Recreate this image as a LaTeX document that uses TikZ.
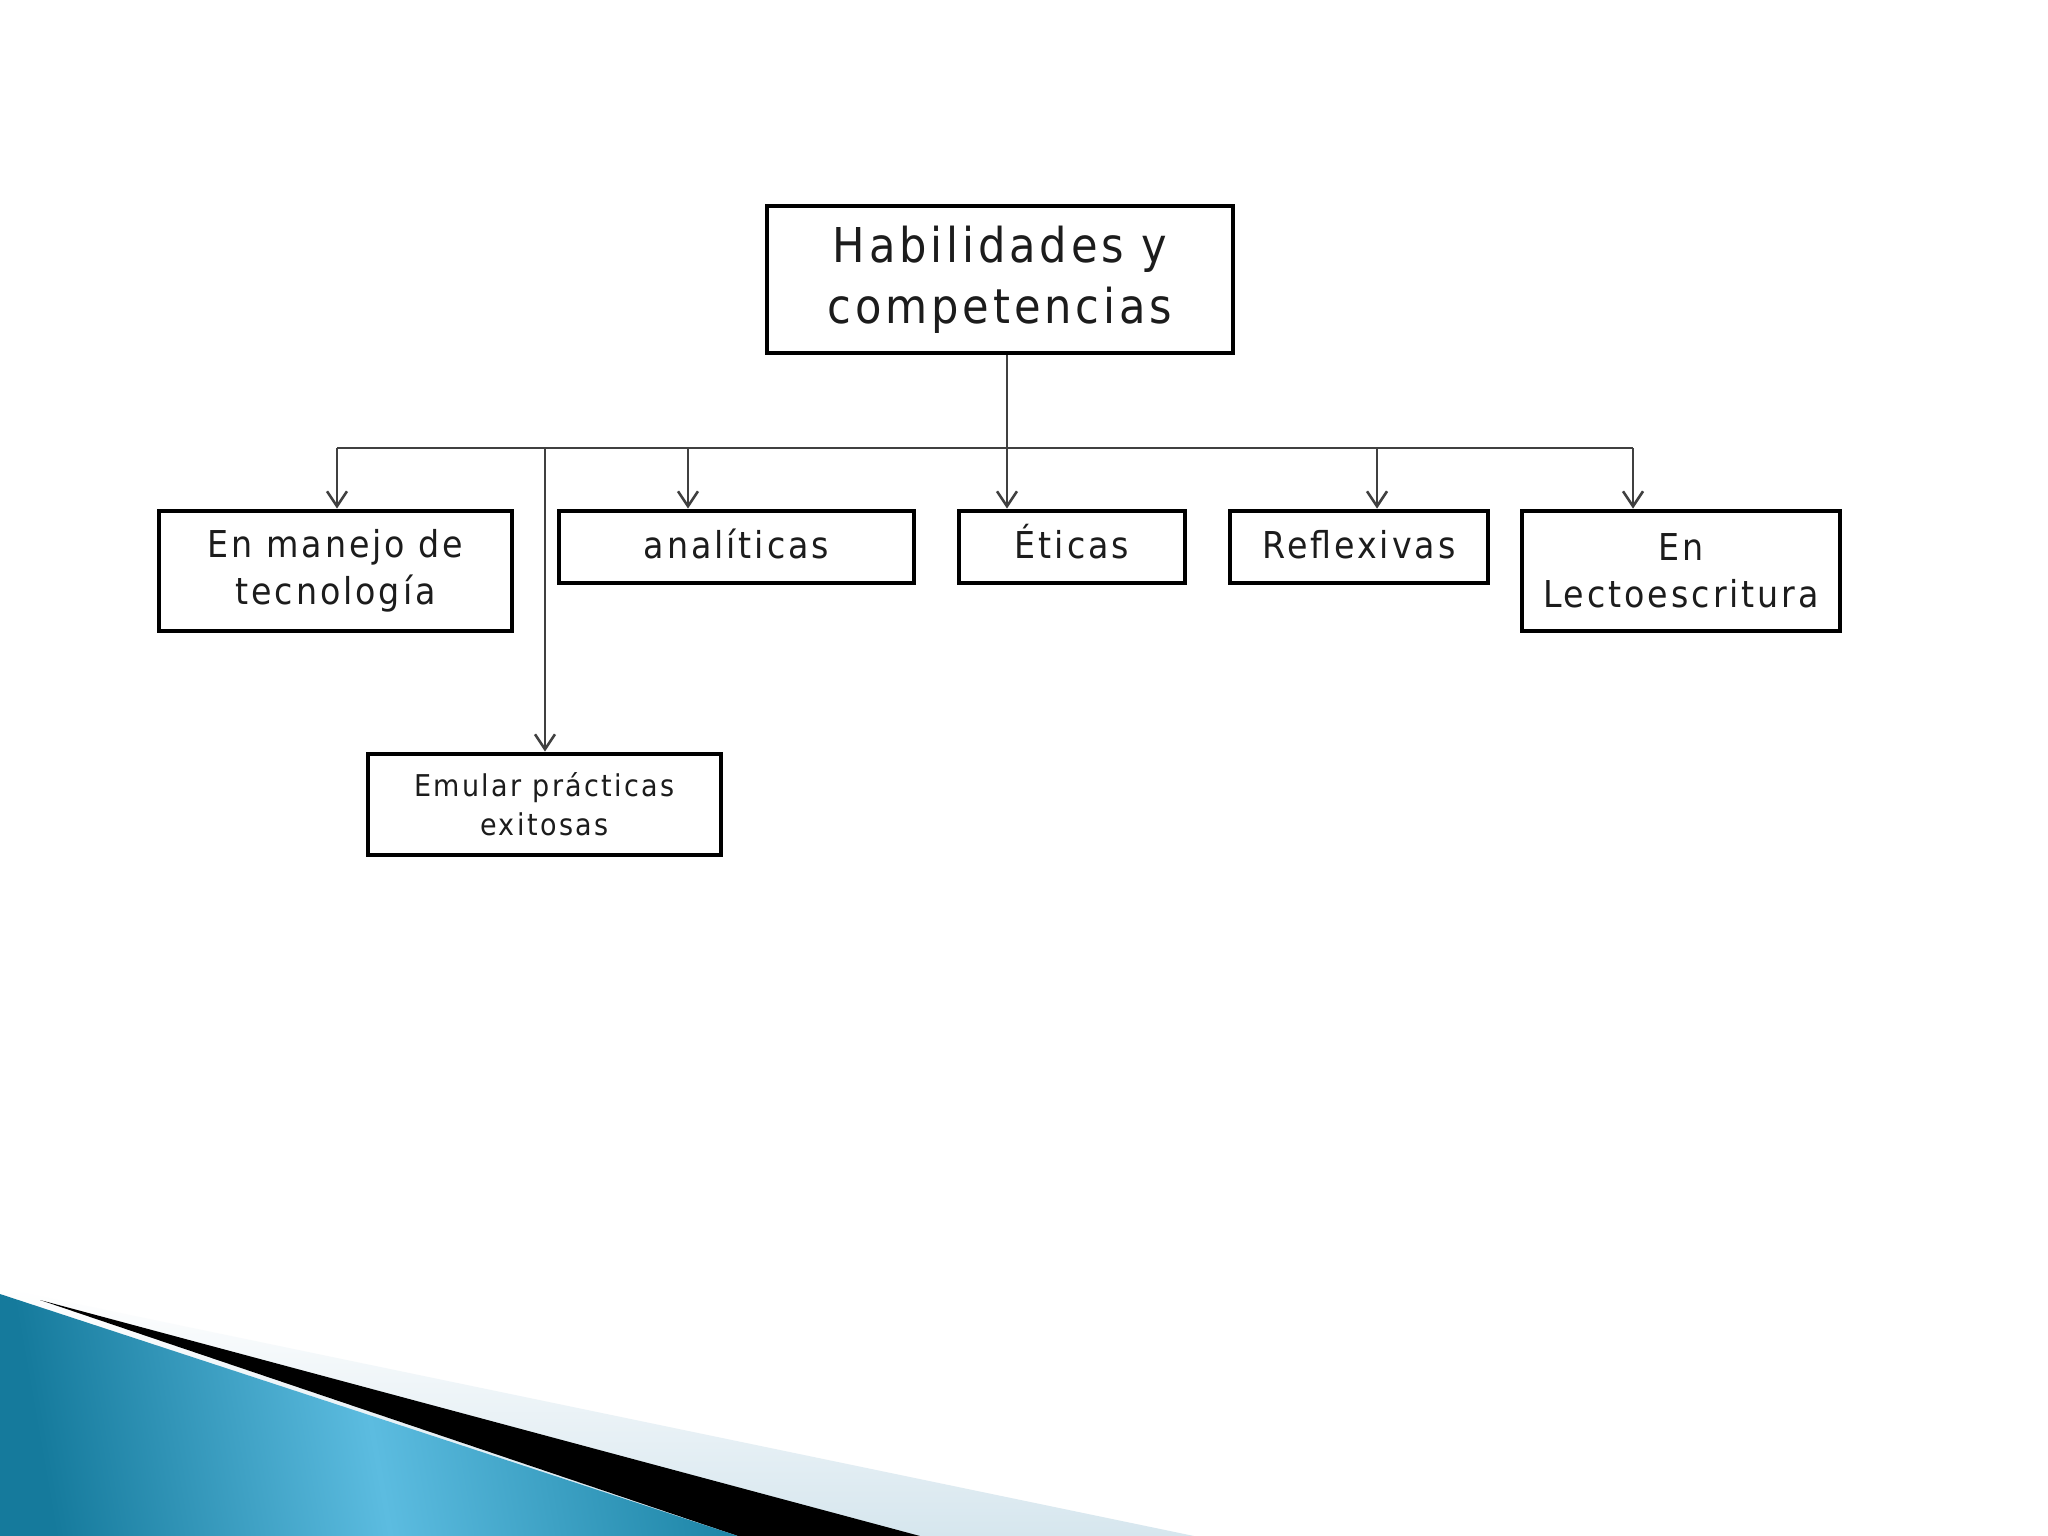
\documentclass[tikz,border=0pt]{standalone}
\usepackage{fontspec}
\setmainfont{DejaVu Sans Condensed}[LetterSpace=8]
\usetikzlibrary{arrows.meta}
\definecolor{txt}{HTML}{1C1C1C}
\definecolor{conn}{HTML}{404040}
\definecolor{tealA}{HTML}{157A9C}
\definecolor{tealB}{HTML}{5CBCE0}
\definecolor{tealC}{HTML}{1E86A8}
\definecolor{pale}{HTML}{D6E6EE}
\tikzset{
  box/.style={draw=black, line width=4.8pt, fill=white, text=txt, align=center, inner sep=0pt},
  onebox/.style={box, minimum height=72pt, text height=30pt, text depth=8pt, font=\fontsize{37}{47}\selectfont},
  conline/.style={draw=conn, line width=2pt},
  arr/.style={conline, -{Straight Barb[length=15pt,width=20pt,line width=2.6pt]}},
}
\begin{document}
\begin{tikzpicture}[x=1pt,y=-1pt]
\useasboundingbox (0,0) rectangle (2048,1536);
\fill[white] (0,0) rectangle (2048,1536);
% bottom-left swoosh
\shade[top color=white, bottom color=pale] (0,1288) -- (1194,1536) -- (0,1536) -- cycle;
\fill[black] (40,1300) -- (920,1536) -- (738,1536) -- cycle;
\shade[left color=tealA, right color=tealC, middle color=tealB, shading angle=100] (0,1294) -- (738,1536) -- (0,1536) -- cycle;
% nodes
\node[box, minimum width=466pt, minimum height=147pt, font=\fontsize{48}{61}\selectfont] (top) at (1000,279.5) {Habilidades y\\competencias};
\node[box, minimum width=353pt, minimum height=120pt, font=\fontsize{37}{47}\selectfont] (b1) at (335.5,571) {En manejo de\\tecnología};
\node[onebox, minimum width=355pt] (b2) at (736.5,547) {analíticas};
\node[onebox, minimum width=226pt] (b3) at (1072,547) {Éticas};
\node[onebox, minimum width=258pt] (b4) at (1359,547) {Reflexivas};
\node[box, minimum width=318pt, minimum height=120pt, font=\fontsize{37}{47}\selectfont] (b5) at (1681,571) {En\\Lectoescritura};
\node[box, minimum width=353pt, minimum height=101pt, font=\fontsize{30}{39}\selectfont] (b6) at (544.5,804.5) {Emular prácticas\\exitosas};
% bus coordinates
\coordinate (trunk) at (1007,448);
\coordinate (k1) at (337,448);
\coordinate (k2) at (688,448);
\coordinate (k6) at (545,448);
\coordinate (k4) at (1377,448);
\coordinate (k5) at (1633,448);
\draw[conline] (trunk |- top.south) -- (trunk);
\draw[conline] (k1) -- (k5);
\draw[arr] (k1) -- (k1 |- b1.north);
\draw[arr] (k2) -- (k2 |- b2.north);
\draw[arr] (trunk) -- (trunk |- b3.north);
\draw[arr] (k4) -- (k4 |- b4.north);
\draw[arr] (k5) -- (k5 |- b5.north);
\draw[arr] (k6) -- (k6 |- b6.north);
\end{tikzpicture}
\end{document}
